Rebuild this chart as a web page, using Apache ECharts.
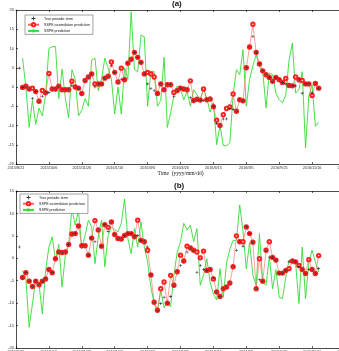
<!DOCTYPE html>
<html>
<head>
<meta charset="utf-8">
<script src="https://cdn.jsdelivr.net/npm/echarts@6/dist/echarts.min.js"></script>
<style>
  html, body { margin: 0; padding: 0; background: #fff; }
  #chart { width: 339px; height: 351px; }
</style>
</head>
<body>
<div id="chart"></div>
<script>
// x positions are sample numbers; one tick every 10 samples
const xLabels = ["2015/8/21", "2015/10/6", "2015/11/26", "2016/1/16", "2016/3/6", "2016/4/26",
  "2016/6/15", "2016/8/5", "2016/9/25", "2016/11/16", "2017/1/5"];
const yTicksA = [-20, 20];
const yTicksB = [-20, 15];

// (a) GPS03, true series starts at sample 1, the others at sample 2
const trueA = [4.9, -0.1, 0.2, -0.5, -3.0, -1.2, -3.7, -2.4, -1.5, -1.4,
  -0.5, -0.5, 0.2, -0.7, -0.7, -0.7, 0.4, 0, -0.3, -1.7,
  1.7, 2.6, 3.4, 0.0, 0.8, 0.8, 2.3, 2.8, 5.5, 3.8,
  1.3, 2.0, 1.9, 6.2, 7.2, 9.0, 7.7, 6.4, 3.4, 0.8,
  -0.4, -0.9, -1.7, 0.8, -0.7, 0.6, 0.6, -2.4, -0.9, -0.3,
  -0.5, -0.7, -2.8, -3.5, -3.2, -3.4, -3.5, -3.3, -3.1, -5.1,
  -9.5, -10.0, -8.3, -8.3, -5.6, -5.8, -6.3, -3.3, -3.6, 5.0,
  10.4, 13.1, 9.0, 6.0, 4.2, 3.2, 2.5, 1.5, 2.5, 1.9,
  1.2, 0.8, 0.4, 0.3, 0.3, 1.9, -1.6, 0.8, 0.8, -1.5,
  0.9, -0.3];
const assimA = [-0.1, 0.2, -0.5, -0.3, -1.2, -3.7, -0.9, -1.5, 3.5, -0.5,
  -0.5, 0.2, -0.7, -0.7, -0.7, 1.5, 0, -0.3, -1.7, 1.7,
  2.6, 3.4, 0.8, 0.8, 0.8, 2.3, 2.8, 6.5, 3.8, 1.3,
  4.9, 1.9, 6.2, 7.2, 9.0, 7.7, 6.4, 3.4, 3.8, 3.4,
  2.6, -1.7, 0.8, -0.7, 0.6, 0.6, -1.4, -0.9, -0.3, -0.5,
  -0.7, 1.6, -3.5, -3.2, -3.4, -0.5, -3.3, -3.1, -5.1, -8.6,
  -10.0, -7.2, -5.6, -5.2, -1.8, -6.3, -3.3, -3.6, 5.0, 10.4,
  16.3, 9.0, 6.0, 4.2, 3.2, 2.5, 1.5, 2.5, 1.9, 1.2,
  2.2, 0.4, 0.3, 2.6, 1.9, 1.7, 0.8, 0.8, -2.2, 0.9,
  -0.3];
const predA = [7.5, 0, -10.5, -3.5, -9.7, -5.5, -7.5, -2, 10, 10.5,
  10.5, -3, 4.7, -3, -8, 4.5, 2, -7.5, -6, -3,
  -5, 7, 7.5, -1, 2, 7.5, 5, 2, -7, 0,
  -7, 5, 2, 19.5, 4.5, 4, 13.5, 13, -5, 4,
  4, -5, -3.5, 7.7, -10.5, -6.7, -2.2, 0.3, -0.5, -3.3,
  -1.1, -5, -0.7, -2, -3.3, -0.5, -3, -6.5, -4, -15,
  -10, -15.2, -15.3, -14.5, -2, 4.5, 3.2, 9.7, -5, 2,
  5.5, 8.4, 5.3, 4, -5.4, 3.6, 3.2, -1.6, -3.3, -4.1,
  -2, 7, 11.4, -1.6, -0.7, 4, -15.8, -2.4, 0.6, -10.2,
  -9.1];

// (b) GPS04
const trueB = [2.5, -4.3, -3.2, -5.1, -6.3, -5.1, -5.9, -5.1, -4.6, -2.5,
  -3.2, -0.1, 1.4, 1.3, 1.4, 3.1, 5.4, 5.5, 7.2, 2.8,
  2.8, 0.7, 4.5, 3.7, 6.3, 2.7, 7.5, 6.0, 8.1, 5.3,
  4.4, 4.3, 5.1, 5.5, 5.5, 4.8, 5.1, 4.0, 3.7, 2.5,
  -3.7, -9.8, -11.6, -10.1, -8.7, -10.0, -8.5, -6.0, -3.0, -1.6,
  -0.6, 1.4, 2.3, 1.8, -3.1, -1.6, -2.5, -2.7, -2.5, -4.4,
  -7.5, -8.5, -6.8, -6.4, -5.5, -1.9, 1.8, 3.7, 2.7, 7.0,
  5.5, 3.6, -6.8, -4.8, -5.1, 1.8, 0.3, 0.2, -0.4, -3.3,
  -3.3, -2.7, -0.8, -0.6, -0.8, -1.9, -2.5, -3.4, -2.5, -2.5,
  -3.4, -2.3];
const assimB = [-4.3, -3.2, -5.1, -6.3, -5.1, -5.9, -5.1, -4.6, -2.5, -3.2,
  -0.1, 1.4, 1.3, 1.4, 3.1, 5.4, 5.5, 7.2, 2.8, 2.8,
  0.7, 4.5, 8.4, 6.3, 2.7, 7.5, 6.9, 8.1, 5.3, 4.4,
  4.3, 5.1, 5.5, 5.5, 4.8, 8.5, 4.0, 3.7, 1.8, -3.7,
  -9.8, -11.6, -6.8, -5.3, -10.0, -3.8, -6.0, -3.0, 0.7, -0.6,
  2.7, 2.3, 1.8, 1.4, 0.1, 1.6, -2.7, -2.5, -4.6, -7.5,
  -8.5, -6.8, -6.4, -5.5, -1.9, 5.0, 3.7, 3.7, 7.0, 5.5,
  3.6, -6.8, -0.1, -5.1, 1.8, 3.7, 0.2, -0.4, -3.3, -3.3,
  -2.7, -2.3, -0.6, -0.8, -1.6, -2.5, -3.4, -0.3, -2.5, -3.4,
  0.6];
const predB = [-2.7, -4.5, -15.4, -10.1, -4.9, -5.7, -12.4, -2.7, 2.5, 4.8,
  -0.4, 3.1, -6.4, 0.7, 2.9, 11.1, 7.4, 10.7, 2.2, 5.1,
  8.5, 7.0, -1.2, 4.8, 8.5, -1.9, 5.1, 7.0, 6.3, 5.9,
  7.8, 13.2, 4.4, 1.0, 6.6, 2.5, 8.1, 2.5, -0.8, -6.4,
  -10.1, -11.6, -7.2, -11.0, -9.8, -10.8, -3.8, 1.4, 3.7, 7.8,
  6.3, 7.4, 3.7, 6.6, -6.0, -3.8, -0.1, -5.3, -8.0, -9.3,
  -2.3, -8.7, -1.0, 2.0, 4.0, 4.0, 11.9, 5.9, -2.3, 3.5,
  -3.8, -6.0, 5.5, -5.3, -6.0, 0.3, -6.8, -2.5, -8.7, -9.0,
  -4.2, -0.4, -1.2, -1.2, -10.1, 2.5, -9.0, -1.0, 1.8, -0.8,
  -3.1];

const NAME_TRUE = "True periodic term";
const NAME_ASSIM = "SSPE assimilation prediction";
const NAME_PRED = "SSPE prediction";
const plusSymbol = "path://M4,0H6V4H10V6H6V10H4V6H0V4H4Z";

const pts = (arr, start) => arr.map((v, k) => [start + k, v]);

const chart = echarts.init(document.getElementById("chart"), null, { renderer: "canvas" });

const baseX = (gridIndex, top) => ({
  type: "value",
  gridIndex: gridIndex,
  position: top ? "top" : "bottom",
  min: 0,
  max: 100,
  interval: 10,
  axisLine: { show: true, onZero: false, lineStyle: { color: "#000", width: 0.7 } },
  axisTick: { show: true, inside: true, length: 2, lineStyle: { color: "#000", width: 0.6 } },
  splitLine: { show: false },
  axisLabel: {
    show: !top,
    margin: 2,
    fontSize: 3.8,
    color: "#333",
    fontFamily: "Liberation Sans",
    showMaxLabel: true,
    formatter: (v) => xLabels[Math.round(v / 10)] || "",
  },
});

const baseY = (gridIndex, ticks, name) => ({
  type: "value",
  gridIndex: gridIndex,
  min: ticks[0],
  max: ticks[1],
  interval: 5,
  name: name,
  nameLocation: "middle",
  nameGap: 10,
  nameTextStyle: { fontFamily: "Liberation Serif", fontSize: 6, color: "#222" },
  axisLine: { show: true, lineStyle: { color: "#000", width: 0.7 } },
  axisTick: { show: true, inside: true, length: 2, lineStyle: { color: "#000", width: 0.6 } },
  splitLine: { show: false },
  axisLabel: { margin: 2, fontSize: 4, color: "#333", fontFamily: "Liberation Sans" },
});

const legendBox = (left, top) => ({
  orient: "vertical",
  left: left,
  top: top,
  data: [NAME_TRUE, NAME_ASSIM, NAME_PRED],
  itemWidth: 11,
  itemHeight: 4,
  itemGap: 1.6,
  padding: [1.5, 3, 1.5, 2],
  borderColor: "#444",
  borderWidth: 0.5,
  backgroundColor: "#fff",
  textStyle: { fontSize: 3.6, color: "#111", fontFamily: "Liberation Sans", lineHeight: 4 },
});

const makeSeries = (axis, tr, as, pr) => [
  {
    name: NAME_PRED,
    type: "line",
    xAxisIndex: axis * 2,
    yAxisIndex: axis,
    data: pts(pr, 2),
    symbol: "none",
    itemStyle: { color: "#33dd33" },
    lineStyle: { color: "#33dd33", width: 0.9 },
    z: 1,
  },
  {
    name: NAME_ASSIM,
    type: "line",
    xAxisIndex: axis * 2,
    yAxisIndex: axis,
    data: pts(as, 2),
    symbol: "emptyCircle",
    symbolSize: 3.4,
    itemStyle: { color: "#ff2020", borderWidth: 0.6 },
    lineStyle: { color: "#ff6060", width: 0.6 },
    z: 2,
  },
  {
    name: NAME_TRUE,
    type: "scatter",
    xAxisIndex: axis * 2,
    yAxisIndex: axis,
    data: pts(tr, 1),
    symbol: plusSymbol,
    symbolSize: 3,
    itemStyle: { color: "#000" },
    z: 3,
  },
];

const option = {
  animation: false,
  backgroundColor: "#fff",
  title: [
    { text: "(a)", left: 172, top: 0, padding: 0,
      textStyle: { fontSize: 8, fontWeight: "bold", color: "#111", fontFamily: "Liberation Sans" } },
    { text: "(b)", left: 174, top: 182, padding: 0,
      textStyle: { fontSize: 8, fontWeight: "bold", color: "#111", fontFamily: "Liberation Sans" } },
  ],
  legend: [legendBox(25, 15), legendBox(20, 194)],
  grid: [
    { left: 16, top: 10, width: 329, height: 154, outerBoundsMode: "none", containLabel: false },
    { left: 16, top: 191, width: 329, height: 157, outerBoundsMode: "none", containLabel: false },
  ],
  xAxis: [
    Object.assign(baseX(0, false), {
      name: "Time  (yyyy/mm/dd)",
      nameLocation: "middle",
      nameGap: 6,
      nameTextStyle: { fontFamily: "Liberation Serif", fontSize: 5.5, color: "#222" },
    }),
    baseX(0, true),
    baseX(1, false),
    baseX(1, true),
  ],
  yAxis: [
    baseY(0, yTicksA, "GPS03 periodic displacement (mm)"),
    baseY(1, yTicksB, "GPS04 periodic displacement (mm)"),
  ],
  series: [].concat(makeSeries(0, trueA, assimA, predA), makeSeries(1, trueB, assimB, predB)),
};

chart.setOption(option);
</script>
</body>
</html>
